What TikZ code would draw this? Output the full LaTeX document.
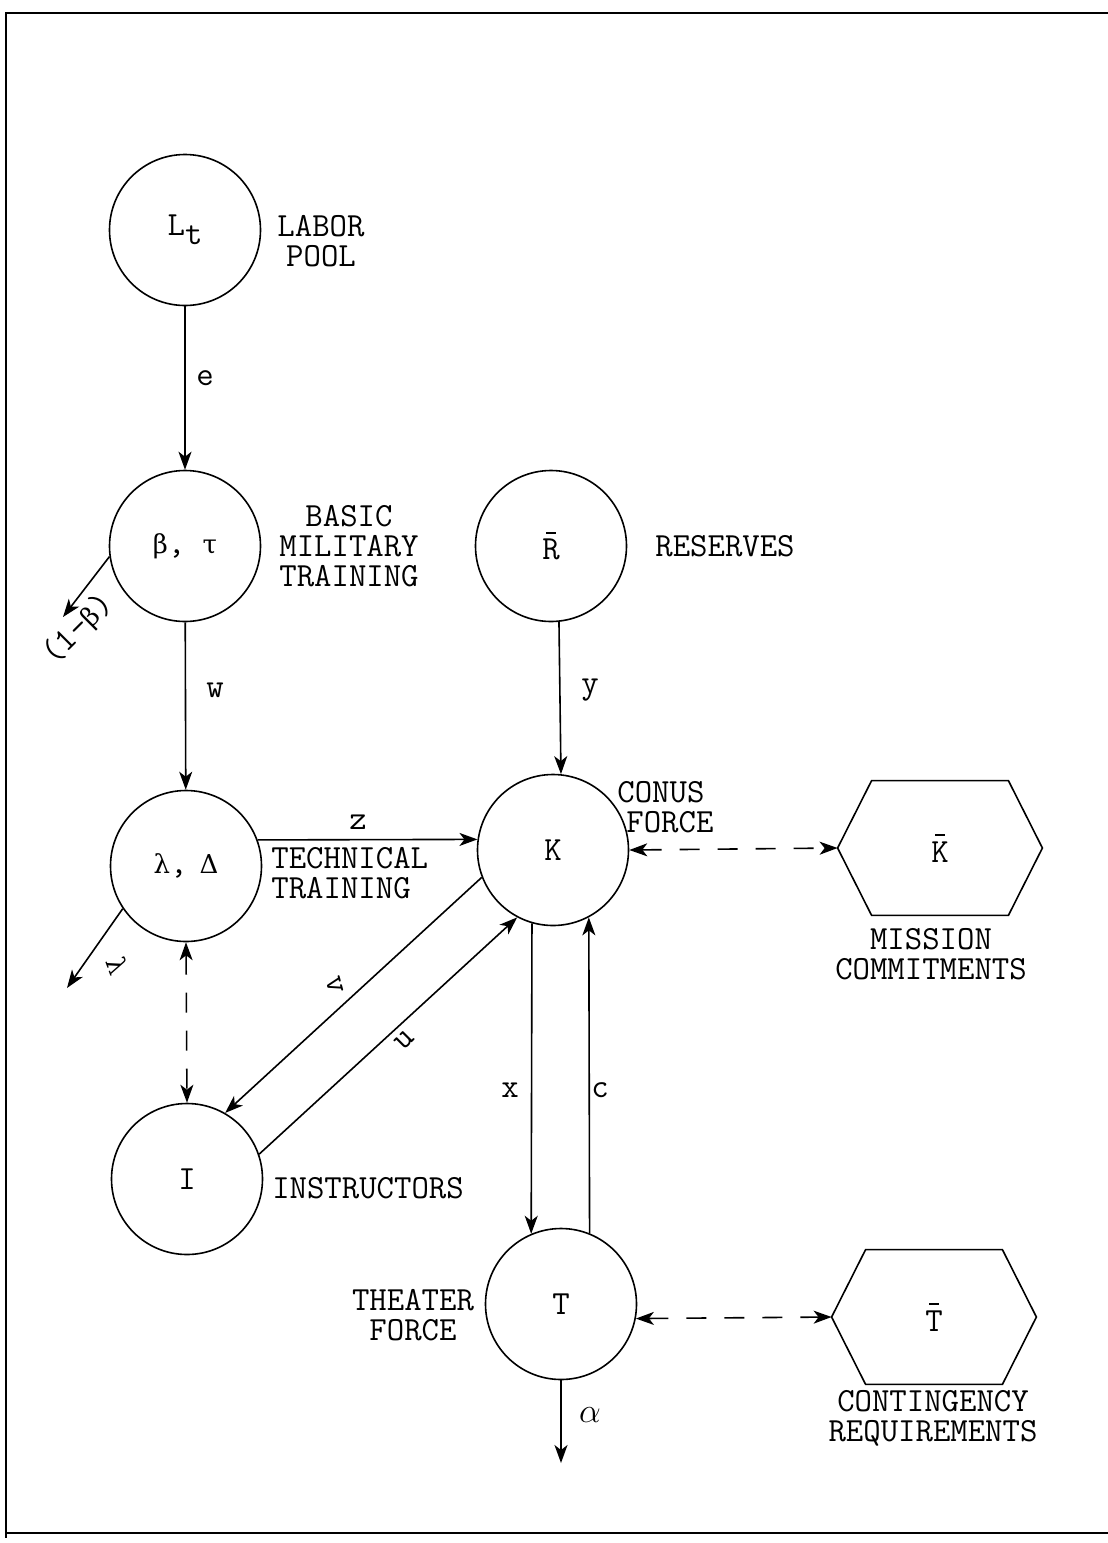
\documentclass[tikz,border=0pt]{standalone}
\usepackage[no-math]{fontspec}
\newfontfamily\grk{DejaVu Serif}
\usetikzlibrary{arrows.meta,calc}

% typewriter-style lettering used for all labels
\newcommand\labfont{\ttfamily\fontsize{16.9}{15}\selectfont}
\newcommand\gk[1]{{\grk\fontsize{13}{15}\selectfont #1}}
% letter with a short bar drawn above it
\newcommand\barred[1]{{\setbox0\hbox{#1}\hbox{\rlap{\hbox to\wd0{\hss\raisebox{\dimexpr\ht0+2.5pt\relax}{\rule{5pt}{1.2pt}}\hss}}\box0}}}

\tikzset{
  >={Stealth[length=9pt,width=6.5pt,inset=2.5pt]},
  stock/.style={circle, draw, line width=0.8pt, minimum size=75.5pt, inner sep=0pt, font=\labfont},
  hexcore/.style={rectangle, draw=none, minimum width=68pt, minimum height=67pt, inner sep=0pt, font=\labfont},
  hexline/.style={line width=0.8pt, line join=miter},
  flow/.style={->, line width=0.8pt},
  link/.style={<->, line width=0.8pt, dash pattern=on 10pt off 9pt},
  lab/.style={font=\labfont, align=center, inner sep=0pt},
  elab/.style={font=\labfont, inner sep=0pt},
  frame/.style={line width=1pt}
}

\begin{document}
\begin{tikzpicture}[x=0.5pt, y=-0.5pt]
\useasboundingbox (0,0) rectangle (1108,1543);

% page frame
\draw[frame] (1108,13) -- (6,13) -- (6,1538);
\draw[frame] (6,1533) -- (1108,1533);

% stocks
\node[stock] (L)   at (185,230)  {L\raisebox{-4.5pt}{t}};
\node[stock] (B)   at (185,546)  {\gk{β}, \gk{τ}};
\node[stock] (R)   at (551,546)  {\barred{R}};
\node[stock] (Lam) at (186,866)  {\gk{λ},\hspace{6pt}\gk{Δ}};
\node[stock] (K)   at (553,850)  {K};
\node[stock] (I)   at (187,1179) {I};
\node[stock] (T)   at (561,1304) {T};

% requirement hexagons
\node[hexcore] (Kb) at (940,848)  {\barred{K}};
\draw[hexline] (Kb.north west) -- (Kb.north east) -- ($(Kb.east)+(34,0)$)
  -- (Kb.south east) -- (Kb.south west) -- ($(Kb.west)+(-34,0)$) coordinate (Kbw) -- cycle;
\node[hexcore] (Tb) at (934,1317) {\barred{T}};
\draw[hexline] (Tb.north west) -- (Tb.north east) -- ($(Tb.east)+(34,0)$)
  -- (Tb.south east) -- (Tb.south west) -- ($(Tb.west)+(-34,0)$) coordinate (Tbw) -- cycle;

% free ends of outflows
\coordinate (oneb)     at (63,617);
\coordinate (lamend)   at (67,988);
\coordinate (alphaend) at (561,1463);

% descriptive labels
\node[lab] at (321,241) {LABOR\\POOL};
\node[lab] at (349,546) {BASIC\\MILITARY\\TRAINING};
\node[lab] at (725,546) {RESERVES};
\node[lab, align=left, anchor=west] at (617,807) {CONUS\\\hspace*{4.5pt}FORCE};
\node[lab, align=left, anchor=west] at (271,873) {TECHNICAL\\TRAINING};
\node[lab] at (931,954) {MISSION\\COMMITMENTS};
\node[lab] at (368,1188) {INSTRUCTORS};
\node[lab] at (413,1315) {THEATER\\FORCE};
\node[lab] at (933,1418) {CONTINGENCY\\REQUIREMENTS};

% flows
\draw[flow] (L) -- (B);
\draw[flow] (B.188) -- (oneb);
\draw[flow] (B) -- (Lam);
\draw[flow] (R.-84) -- (K.84);
\draw[flow] (Lam.20) -- (K.172);
\draw[flow] (Lam.214) -- (lamend);
\draw[flow] (K.201) -- (I.60);
\draw[flow] (I.19) -- (K.242);
\draw[flow] (K.254) -- (T.113);
\draw[flow] (T.68) -- (K.298);
\draw[flow] (T.south) -- (alphaend);

% comparisons with requirements
\draw[link] (K.east) -- (Kbw);
\draw[link] (Lam.south) -- (I.north);
\draw[link] (T.-11) -- (Tbw);

% flow labels
\node[elab] at (205,378) {e};
\node[elab] at (215,690) {w};
\node[elab] at (590,690) {y};
\node[elab] at (358,822) {z};
\node[elab, rotate=-75] at (335,985) {v};
\node[elab, rotate=45] at (405,1040) {u};
\node[elab] at (510,1090) {x};
\node[elab] at (600,1090) {c};
\node[elab] at (590,1415) {$\alpha$};
\node[elab, rotate=-70] at (118,966) {\gk{λ}};
\node[elab, rotate=45] at (78,629) {(1-\gk{β})};
\end{tikzpicture}
\end{document}
